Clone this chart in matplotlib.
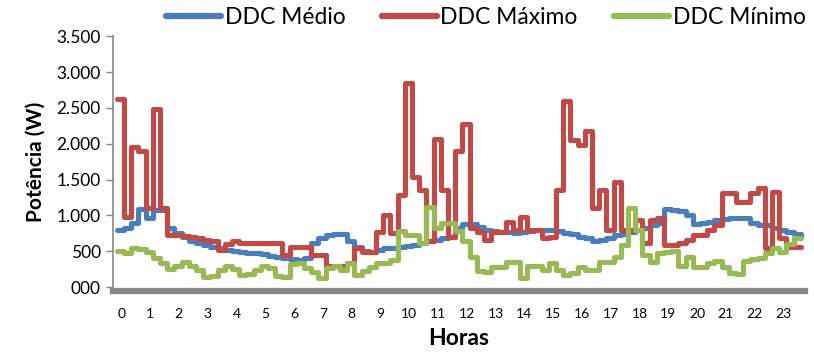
import matplotlib
matplotlib.use("Agg")
import matplotlib.pyplot as plt
import numpy as np

plt.rcParams["font.family"] = ["Lato", "DejaVu Sans"]

# 15-minute steps, one value per interval
medio = [790, 830, 900, 1090, 970, 1070, 1080, 830, 760, 700, 650, 620,
         590, 560, 540, 520, 505, 490, 480, 470, 460, 440, 420, 400,
         390, 380, 400, 620, 680, 720, 740, 740, 640, 560, 500, 490,
         520, 540, 550, 560, 570, 590, 620, 640, 660, 680, 700, 820,
         880, 880, 840, 800, 780, 770, 770, 760, 770, 780, 790, 800,
         790, 780, 760, 740, 700, 680, 650, 660, 690, 720, 740, 770,
         800, 830, 860, 900, 1090, 1080, 1060, 1000, 880, 900, 910, 930,
         950, 960, 960, 970, 890, 870, 860, 830, 800, 770, 740, 730]

maximo = [2620, 975, 1950, 1900, 1110, 2480, 1110, 730, 720, 710, 700, 680,
          660, 640, 520, 600, 650, 620, 615, 615, 610, 610, 610, 450,
          560, 560, 560, 450, 450, 300, 290, 300, 330, 545, 490, 490,
          765, 1000, 760, 1280, 2850, 1530, 1350, 650, 2070, 1350, 700, 1900,
          2280, 820, 765, 655, 765, 765, 905, 795, 975, 795, 795, 680,
          700, 1350, 2600, 2050, 1980, 2180, 1110, 1350, 800, 1460, 790, 790,
          935, 610, 935, 960, 585, 585, 620, 655, 725, 725, 795, 865,
          1310, 1310, 1185, 1185, 1310, 1380, 545, 1325, 680, 560, 560, 560]

minimo = [510, 470, 540, 530, 490, 400, 340, 250, 300, 350, 300, 240,
          140, 160, 240, 300, 250, 170, 180, 240, 300, 260, 160, 140,
          320, 330, 270, 210, 130, 260, 300, 240, 330, 170, 230, 280,
          340, 340, 380, 780, 720, 720, 620, 1120, 830, 900, 900, 780,
          650, 420, 220, 210, 280, 280, 350, 350, 130, 300, 300, 240,
          330, 240, 170, 200, 280, 240, 240, 350, 350, 420, 590, 1100,
          800, 450, 350, 480, 490, 510, 300, 420, 280, 280, 330, 360,
          280, 200, 180, 370, 390, 400, 480, 540, 490, 600, 680, 680]

series_names = ["DDC Médio", "DDC Máximo", "DDC Mínimo"]
colors = ["#4A7EBB", "#BE4B48", "#98B954"]

hours = list(range(24))
ytick_vals = [0, 500, 1000, 1500, 2000, 2500, 3000, 3500]
ytick_labels = ["000", "500", "1.000", "1.500", "2.000", "2.500", "3.000", "3.500"]

t = -0.15 + 0.25 * np.arange(len(medio))

fig = plt.figure(figsize=(8.14, 3.58), dpi=100)
ax = fig.add_axes([0.139, 0.198, 0.850, 0.701])

for vals, name, col in zip([medio, maximo, minimo], series_names, colors):
    ax.plot(t, vals, drawstyle="steps-post", color=col, lw=3.7,
            label=name, solid_joinstyle="round", solid_capstyle="round")

ax.set_xlim(-0.28, 23.75)
ax.set_ylim(0, 3500)
ax.set_yticks(ytick_vals)
ax.set_yticklabels(ytick_labels, fontsize=12.5)
ax.set_xticks(hours)
ax.set_xticklabels([str(h) for h in hours], fontsize=13.5)
ax.tick_params(axis="x", length=0, pad=12)
ax.tick_params(axis="y", length=5, width=1, color="#868686", pad=4)

for s in ["top", "right"]:
    ax.spines[s].set_visible(False)
ax.spines["left"].set_color("#868686")
ax.spines["left"].set_linewidth(1.2)
ax.spines["bottom"].set_color("#878787")
ax.spines["bottom"].set_linewidth(4.5)
ax.spines["bottom"].set_position(("outward", 3))

ax.set_xlabel("Horas", fontsize=16.5, fontweight="bold", labelpad=6)
ax.set_ylabel("Potência (W)", fontsize=15, fontweight="bold", labelpad=8)

for line in fig.legend(loc="center", bbox_to_anchor=(0.597, 0.952), ncol=3,
                       frameon=False, fontsize=16.5, handlelength=2.4,
                       handletextpad=0.15, columnspacing=1.6,
                       borderaxespad=0).get_lines():
    line.set_linewidth(4.5)

fig.savefig("out.png", dpi=100)
